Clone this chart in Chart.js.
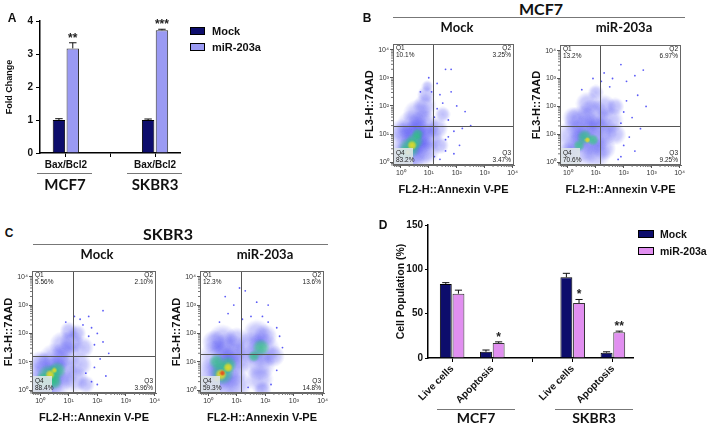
<!DOCTYPE html>
<html>
<head>
<meta charset="utf-8">
<script src="https://cdn.jsdelivr.net/npm/chart.js@4.4.1/dist/chart.umd.min.js"></script>
<style>
body { margin: 0; background: #fff; }
#fig { position: relative; width: 708px; height: 424px; overflow: hidden; font-family: "Liberation Sans", Arial, sans-serif; }
#fig canvas { position: absolute; }
.t { position: absolute; white-space: nowrap; transform: translate(-50%, -50%); font-weight: bold; color: #111; }
.l { position: absolute; white-space: nowrap; transform: translate(0, -50%); font-weight: bold; color: #111; }
.cal { font-family: Lato, "Open Sans", sans-serif; }
.ln { position: absolute; height: 0; border-top: 1px solid #777; }
.box { position: absolute; border: 1px solid #000; box-sizing: border-box; }
</style>
</head>
<body>
<div id="fig">
  <canvas id="chartA" width="200" height="200" style="left:0;top:0"></canvas>
  <canvas id="chartD" width="338" height="209" style="left:370px;top:215px"></canvas>
  <canvas id="flowB1" width="164" height="166" style="left:363px;top:31px"></canvas>
  <canvas id="flowB2" width="165" height="166" style="left:530px;top:31px"></canvas>
  <canvas id="flowC1" width="168" height="168" style="left:2px;top:257px"></canvas>
  <canvas id="flowC2" width="168" height="168" style="left:170px;top:257px"></canvas>

  <div class="t" style="left:12px;top:18px;font-size:12px">A</div>
  <div class="t" style="left:367px;top:18px;font-size:12px">B</div>
  <div class="t" style="left:9px;top:233px;font-size:12px">C</div>
  <div class="t" style="left:383px;top:225px;font-size:12px">D</div>

  <!-- panel A legend and groups -->
  <div class="box" style="left:190px;top:27px;width:15px;height:8px;background:#0d0d6c"></div>
  <div class="l" style="left:212px;top:31px;font-size:11px">Mock</div>
  <div class="box" style="left:190px;top:43px;width:15px;height:8px;background:#9a9af3"></div>
  <div class="l" style="left:212px;top:47px;font-size:11px">miR-203a</div>
  <div class="ln" style="left:37px;top:173px;width:55px"></div>
  <div class="ln" style="left:127px;top:173px;width:55px"></div>
  <div class="t cal" style="left:65px;top:184px;font-size:15px">MCF7</div>
  <div class="t cal" style="left:155px;top:184px;font-size:15px">SKBR3</div>

  <!-- panel B titles -->
  <div class="t cal" style="left:541px;top:8px;font-size:16px">MCF7</div>
  <div class="ln" style="left:393px;top:17px;width:292px"></div>
  <div class="t cal" style="left:457px;top:27px;font-size:13px">Mock</div>
  <div class="t cal" style="left:624px;top:27px;font-size:13px">miR-203a</div>

  <!-- panel C titles -->
  <div class="t cal" style="left:168px;top:233px;font-size:16px">SKBR3</div>
  <div class="ln" style="left:33px;top:244px;width:295px"></div>
  <div class="t cal" style="left:97px;top:254px;font-size:13px">Mock</div>
  <div class="t cal" style="left:265px;top:254px;font-size:13px">miR-203a</div>

  <!-- panel D legend and groups -->
  <div class="box" style="left:638px;top:230px;width:16px;height:8px;background:#0d0d6c"></div>
  <div class="l" style="left:660px;top:234px;font-size:10.5px">Mock</div>
  <div class="box" style="left:638px;top:247px;width:16px;height:8px;background:#e18ff0"></div>
  <div class="l" style="left:660px;top:251px;font-size:10.5px">miR-203a</div>
  <div class="ln" style="left:437px;top:409px;width:78px"></div>
  <div class="ln" style="left:555px;top:409px;width:78px"></div>
  <div class="t cal" style="left:476px;top:417px;font-size:14px">MCF7</div>
  <div class="t cal" style="left:594px;top:417px;font-size:14px">SKBR3</div>
</div>

<script>
// ---- data ----
const cellLines = ['MCF7', 'SKBR3'];
const groups = ['Mock', 'miR-203a'];

// Panel A: Bax/Bcl2 fold change
const foldCategory = 'Bax/Bcl2';
const foldMock = [1.0, 1.0];
const foldMockErr = [0.04, 0.03];
const foldMir = [3.17, 3.72];
const foldMirErr = [0.17, 0.03];
const foldStars = ['**', '***'];
const foldTicks = [0, 1, 2, 3, 4];

// Panel D: cell population (%), order MCF7 live, MCF7 apoptosis, SKBR3 live, SKBR3 apoptosis
const popCategories = ['Live cells', 'Apoptosis'];
const popMock = [83.5, 7, 91, 6];
const popMockErr = [1.5, 2, 4.5, 1];
const popMir = [72.5, 17, 62, 29];
const popMirErr = [4, 1.2, 4, 1.3];
const popStars = ['', '*', '*', '**'];
const popTicks = [0, 50, 100, 150];

// Flow plots: quadrant percentages Q1, Q2, Q3, Q4
const quadMcf7Mock = ['10.1%', '3.25%', '3.47%', '83.2%'];
const quadMcf7Mir = ['13.2%', '6.97%', '9.25%', '70.6%'];
const quadSkbrMock = ['5.56%', '2.10%', '3.96%', '88.4%'];
const quadSkbrMir = ['12.3%', '13.6%', '14.8%', '59.3%'];
const flowTicks = [0, 1, 2, 3, 4];

// Density clouds, [log10 Annexin V-PE, log10 7AAD, extent]
const mcf7MockBlue = [[0.2,0.2,13],[0.5,0.4,13],[0.3,0.8,13],[0.6,0.9,12],[0.4,1.3,11],[0.8,1.3,11],[0.6,1.7,10],[0.85,2.0,8],[0.9,2.4,6],[0.95,2.7,4],[0.9,0.4,9],[1.0,0.9,9],[1.3,1.2,7],[1.4,0.6,6],[1.5,1.7,5],[0.0,1.1,8]];
const mcf7MockGreen = [[0.3,0.5,7],[0.5,0.75,6],[0.15,0.3,5],[0.6,1.0,4]];
const mcf7MockYellow = [[0.4,0.6,3],[0.25,0.35,2]];
const mcf7MockRed = [];
const mcf7MockDots = [[1.2,0.2],[1.4,0.1],[1.6,0.4],[1.7,0.9],[1.9,1.1],[2.1,0.6],[2.2,1.2],[1.3,1.9],[1.5,2.1],[1.7,1.5],[1.1,2.5],[1.3,2.8],[1.6,3.3],[1.8,3.3],[1.8,2.5],[2.3,1.8],[2.5,1.3],[1.0,3.0],[0.7,2.5],[1.2,1.6],[1.9,0.3],[1.6,0.8],[2.0,2.0],[1.4,2.4]];

const mcf7MirBlue = [[0.2,0.9,12],[0.5,0.5,13],[0.8,1.0,14],[0.5,1.4,12],[0.9,1.7,11],[1.2,1.1,11],[1.0,0.3,10],[1.3,0.5,8],[1.5,1.5,9],[1.3,2.0,8],[0.7,2.1,8],[1.7,1.0,7],[0.0,0.3,8],[0.2,1.6,7],[1.0,2.5,5],[1.7,2.0,6]];
const mcf7MirGreen = [[0.6,0.9,5],[0.9,0.8,4],[0.4,0.6,4]];
const mcf7MirYellow = [[0.7,0.8,2]];
const mcf7MirRed = [];
const mcf7MirDots = [[1.9,0.2],[2.0,0.6],[2.2,0.9],[1.9,1.4],[2.3,1.6],[2.1,2.2],[2.5,2.4],[2.7,3.3],[2.4,3.1],[2.1,2.9],[1.9,3.5],[1.6,3.0],[1.3,3.2],[0.9,3.0],[1.5,2.7],[2.6,1.2],[1.8,0.1],[2.4,0.4],[0.5,2.6],[1.2,2.9],[2.0,1.8],[2.8,2.0]];

const skbrMockBlue = [[0.1,0.3,14],[0.4,0.2,13],[0.3,0.7,13],[0.7,0.6,12],[0.5,1.1,11],[0.9,1.2,10],[0.8,1.6,9],[1.1,1.7,8],[1.0,2.1,6],[1.2,0.4,9],[1.4,0.9,8],[1.5,1.5,7],[1.3,2.0,6],[1.6,0.2,6],[0.0,0.0,9],[0.0,1.0,7]];
const skbrMockGreen = [[0.3,0.5,8],[0.6,0.7,6],[0.1,0.3,6],[0.5,0.3,5]];
const skbrMockYellow = [[0.35,0.55,3],[0.5,0.7,2]];
const skbrMockRed = [];
const skbrMockDots = [[1.8,0.3],[1.9,0.8],[2.1,1.1],[2.0,0.2],[2.3,0.5],[1.7,1.9],[1.9,1.6],[1.5,2.3],[1.4,2.5],[1.8,2.2],[2.2,2.8],[1.2,2.6],[0.9,2.4],[2.4,1.3],[1.6,0.6],[2.2,1.7],[1.7,2.6],[2.0,2.0]];

const skbrMirBlue = [[0.2,0.5,13],[0.5,0.3,13],[0.7,0.8,14],[0.3,1.1,13],[0.7,1.4,12],[1.0,1.1,11],[0.5,1.8,10],[1.0,0.2,10],[1.5,1.5,11],[1.9,1.4,12],[1.8,0.9,11],[1.8,0.4,9],[1.7,2.0,9],[2.0,1.9,8],[1.9,0.0,6],[2.3,1.2,7],[0.0,0.0,8],[0.2,1.7,8],[1.0,1.8,8]];
const skbrMirGreen = [[0.5,0.6,8],[0.7,0.9,6],[0.3,1.0,5],[1.85,1.5,6],[1.6,1.2,4]];
const skbrMirYellow = [[0.45,0.55,4],[0.7,0.8,3],[0.3,0.4,2]];
const skbrMirRed = [[0.5,0.6,2]];
const skbrMirDots = [[1.3,3.5],[0.9,3.0],[1.7,3.1],[1.1,3.6],[2.1,2.4],[1.5,2.6],[2.4,0.7],[2.4,2.2],[0.4,2.4],[0.7,2.7],[1.2,2.5],[2.2,0.2],[2.6,1.5],[1.9,2.6],[2.1,3.0],[0.6,3.3],[1.4,0.1],[2.5,1.9]];

// ---- styling ----
const mockColor = '#0d0d6c';
const mirColorA = '#9a9af3';
const mirColorD = '#e18ff0';
const sup = ['\u2070', '\u00b9', '\u00b2', '\u00b3', '\u2074'];

Chart.defaults.font.family = "'Liberation Sans', Arial, sans-serif";
Chart.defaults.color = '#111';
Chart.defaults.animation = false;

// upper error bars and significance stars on top of the bars
const errorBars = {
  id: 'errorBars',
  afterDatasetsDraw(chart) {
    const ctx = chart.ctx;
    const y = chart.scales.y;
    chart.data.datasets.forEach((ds, di) => {
      chart.getDatasetMeta(di).data.forEach((bar, i) => {
        const top = y.getPixelForValue(ds.data[i].y + ds.errors[i]);
        const half = bar.width * 0.3;
        ctx.save();
        ctx.strokeStyle = '#111';
        ctx.lineWidth = 1;
        ctx.beginPath();
        ctx.moveTo(bar.x, bar.y);
        ctx.lineTo(bar.x, top);
        ctx.moveTo(bar.x - half, top);
        ctx.lineTo(bar.x + half, top);
        ctx.stroke();
        if (ds.stars[i]) {
          ctx.fillStyle = '#222';
          ctx.font = "bold 12px 'Liberation Sans'";
          ctx.textAlign = 'center';
          ctx.textBaseline = 'alphabetic';
          ctx.fillText(ds.stars[i], bar.x, top - 1);
        }
        ctx.restore();
      });
    });
  }
};

function barAxis(extra) {
  return Object.assign({
    offset: false,
    grid: { offset: false, drawOnChartArea: false, tickLength: 4, color: '#000' },
    border: { color: '#000', width: 1.5 }
  }, extra);
}

// ---- Panel A ----
new Chart(document.getElementById('chartA'), {
  type: 'bar',
  data: {
    datasets: [
      { label: groups[0], data: foldMock.map((v, i) => ({ x: i * 2, y: v })), errors: foldMockErr, stars: [],
        backgroundColor: mockColor, borderColor: '#000', borderWidth: 1, categoryPercentage: 0.62, barPercentage: 0.9 },
      { label: groups[1], data: foldMir.map((v, i) => ({ x: i * 2, y: v })), errors: foldMirErr, stars: foldStars,
        backgroundColor: mirColorA, borderColor: '#333', borderWidth: 1, categoryPercentage: 0.62, barPercentage: 0.9 }
    ]
  },
  options: {
    responsive: false,
    layout: { padding: { top: 21, right: 20, left: 4, bottom: 0 } },
    plugins: { legend: { display: false }, tooltip: { enabled: false } },
    scales: {
      x: barAxis({
        type: 'linear', bounds: 'data', min: -0.58, max: 2.56,
        afterBuildTicks: s => { s.ticks = [0, 1, 2].map(v => ({ value: v })); },
        ticks: { callback: v => (v % 2 === 0 ? foldCategory : ''), font: { size: 10, weight: 'bold' }, padding: 2, maxRotation: 0, autoSkip: false },
        afterFit: s => { s.height = 47; }
      }),
      y: barAxis({
        min: 0, max: 4,
        afterBuildTicks: s => { s.ticks = foldTicks.map(v => ({ value: v })); },
        ticks: { font: { size: 10, weight: 'bold' }, padding: 3 },
        title: { display: true, text: 'Fold Change', font: { size: 9, weight: 'bold' }, padding: 0 },
        afterFit: s => { s.width = 36; }
      })
    }
  },
  plugins: [errorBars]
});

// ---- Panel D ----
const popX = popMock.map((v, i) => Math.floor(i / 2) * 3 + (i % 2));
new Chart(document.getElementById('chartD'), {
  type: 'bar',
  data: {
    datasets: [
      { label: groups[0], data: popMock.map((v, i) => ({ x: popX[i], y: v })), errors: popMockErr, stars: [],
        backgroundColor: mockColor, borderColor: '#000', borderWidth: 1, categoryPercentage: 0.63, barPercentage: 0.94 },
      { label: groups[1], data: popMir.map((v, i) => ({ x: popX[i], y: v })), errors: popMirErr, stars: popStars,
        backgroundColor: mirColorD, borderColor: '#333', borderWidth: 1, categoryPercentage: 0.63, barPercentage: 0.94 }
    ]
  },
  options: {
    responsive: false,
    layout: { padding: { top: 10, right: 75, left: 25, bottom: 0 } },
    plugins: { legend: { display: false }, tooltip: { enabled: false } },
    scales: {
      x: barAxis({
        type: 'linear', bounds: 'data', min: -0.6, max: 4.5,
        afterBuildTicks: s => { s.ticks = [0, 1, 2, 3, 4].map(v => ({ value: v })); },
        ticks: { callback: v => (v === 2 ? '' : popCategories[v % 3]), font: { size: 10, weight: 'bold' },
                 padding: 1, minRotation: 45, maxRotation: 45, autoSkip: false },
        afterFit: s => { s.height = 66; }
      }),
      y: barAxis({
        min: 0, max: 150,
        afterBuildTicks: s => { s.ticks = popTicks.map(v => ({ value: v })); },
        ticks: { font: { size: 10, weight: 'bold' }, padding: 2 },
        grid: { offset: false, drawOnChartArea: false, tickLength: 3, color: '#000' },
        title: { display: true, text: 'Cell Population (%)', font: { size: 10.5, weight: 'bold' }, padding: 0 },
        afterFit: s => { s.width = 33; }
      })
    }
  },
  plugins: [errorBars]
});

// ---- flow cytometry panels ----
// soft round sprite so the density clouds blend instead of showing hard circles
const spriteCache = {};
function sprite(r, rgb, alpha) {
  const key = r + '|' + rgb + '|' + alpha;
  if (spriteCache[key]) return spriteCache[key];
  const R = Math.max(2, Math.ceil(r * 1.45));
  const c = document.createElement('canvas');
  c.width = c.height = 2 * R;
  const g = c.getContext('2d');
  const grad = g.createRadialGradient(R, R, 0, R, R, R);
  grad.addColorStop(0, 'rgba(' + rgb + ',' + alpha + ')');
  grad.addColorStop(0.55, 'rgba(' + rgb + ',' + (alpha * 0.75) + ')');
  grad.addColorStop(1, 'rgba(' + rgb + ',0)');
  g.fillStyle = grad;
  g.fillRect(0, 0, 2 * R, 2 * R);
  spriteCache[key] = c;
  return c;
}

const flowFrame = {
  id: 'flowFrame',
  afterDatasetsDraw(chart, args, o) {
    const { ctx, chartArea: a, scales: { x, y } } = chart;
    ctx.save();
    ctx.strokeStyle = '#555';
    ctx.lineWidth = 1;
    const gx = Math.round(x.getPixelForValue(o.gateX)) + 0.5;
    const gy = Math.round(y.getPixelForValue(o.gateY)) + 0.5;
    ctx.beginPath();
    ctx.moveTo(gx, a.top); ctx.lineTo(gx, a.bottom);
    ctx.moveTo(a.left, gy); ctx.lineTo(a.right, gy);
    ctx.stroke();
    ctx.strokeStyle = '#666';
    ctx.strokeRect(a.left + 0.5, a.top + 0.5, a.right - a.left - 1, a.bottom - a.top - 1);
    // minor log ticks
    ctx.strokeStyle = '#777';
    ctx.beginPath();
    for (let d = -1; d < 5; d++) {
      for (let k = 2; k < 10; k++) {
        const v = d + Math.log10(k);
        if (v > x.min && v < x.max) {
          const px = x.getPixelForValue(v);
          ctx.moveTo(px, a.bottom); ctx.lineTo(px, a.bottom + 2);
        }
        if (v > y.min && v < y.max) {
          const py = y.getPixelForValue(v);
          ctx.moveTo(a.left, py); ctx.lineTo(a.left - 2, py);
        }
      }
    }
    ctx.stroke();
    // quadrant labels
    ctx.fillStyle = 'rgba(222,228,232,0.9)';
    ctx.fillRect(a.left + 1, a.bottom - 17, 19, 16);
    ctx.fillStyle = '#222';
    ctx.font = "6.5px 'Liberation Sans'";
    ctx.textBaseline = 'middle';
    ctx.textAlign = 'left';
    ctx.fillText('Q1', a.left + 3, a.top + 4);
    ctx.fillText(o.quads[0], a.left + 3, a.top + 11);
    ctx.fillText('Q4', a.left + 3, a.bottom - 12);
    ctx.fillText(o.quads[3], a.left + 3, a.bottom - 5);
    ctx.textAlign = 'right';
    ctx.fillText('Q2', a.right - 3, a.top + 4);
    ctx.fillText(o.quads[1], a.right - 3, a.top + 11);
    ctx.fillText('Q3', a.right - 3, a.bottom - 12);
    ctx.fillText(o.quads[2], a.right - 3, a.bottom - 5);
    ctx.restore();
  }
};

function flowAxis(min, max, titleText, isX) {
  return {
    type: 'linear', bounds: 'data', min: min, max: max,
    afterBuildTicks: s => { s.ticks = flowTicks.map(v => ({ value: v })); },
    ticks: { callback: v => '10' + sup[v], font: { size: 7 }, color: '#333', padding: 1, maxRotation: 0, autoSkip: false },
    grid: { drawOnChartArea: false, tickLength: 3, color: '#555' },
    border: { color: '#666' },
    title: { display: true, text: titleText, font: { size: 11, weight: 'bold' }, padding: isX ? { top: 2, bottom: 0 } : 0 },
    afterFit: isX ? (s => { s.height = 32; }) : (s => { s.width = 30; })
  };
}

const bubbles = arr => arr.map(p => ({ x: p[0], y: p[1], r: p[2] }));
const cloud = (arr, rgb, alpha, order) => ({
  data: bubbles(arr), order: order, borderWidth: 0, backgroundColor: 'rgba(' + rgb + ',' + alpha + ')',
  pointStyle: c => (c.raw ? sprite(c.raw.r, rgb, alpha) : 'circle')
});

function flowChart(id, red, yellow, green, blue, dots, quads, gateY) {
  return new Chart(document.getElementById(id), {
    type: 'bubble',
    data: {
      datasets: [
        cloud(red, '232,55,25', 0.9, 1),
        cloud(yellow, '245,222,30', 0.9, 2),
        cloud(green, '40,205,115', 0.7, 3),
        cloud(blue, '40,40,240', 0.3, 4),
        { data: dots.map(p => ({ x: p[0], y: p[1], r: 0.9 })), backgroundColor: 'rgba(50,50,245,0.8)', borderWidth: 0, order: 5 }
      ]
    },
    options: {
      responsive: false,
      layout: { padding: { top: 6, right: 8, left: 0, bottom: 0 } },
      plugins: { legend: { display: false }, tooltip: { enabled: false }, flowFrame: { gateX: 1.15, gateY: gateY, quads: quads } },
      scales: {
        x: flowAxis(-0.28, 4.05, 'FL2-H::Annexin V-PE', true),
        y: flowAxis(-0.1, 4.2, 'FL3-H::7AAD', false)
      }
    },
    plugins: [flowFrame]
  });
}

flowChart('flowB1', mcf7MockRed, mcf7MockYellow, mcf7MockGreen, mcf7MockBlue, mcf7MockDots, quadMcf7Mock, 1.3);
flowChart('flowB2', mcf7MirRed, mcf7MirYellow, mcf7MirGreen, mcf7MirBlue, mcf7MirDots, quadMcf7Mir, 1.3);
flowChart('flowC1', skbrMockRed, skbrMockYellow, skbrMockGreen, skbrMockBlue, skbrMockDots, quadSkbrMock, 1.2);
flowChart('flowC2', skbrMirRed, skbrMirYellow, skbrMirGreen, skbrMirBlue, skbrMirDots, quadSkbrMir, 1.28);
</script>
</body>
</html>
